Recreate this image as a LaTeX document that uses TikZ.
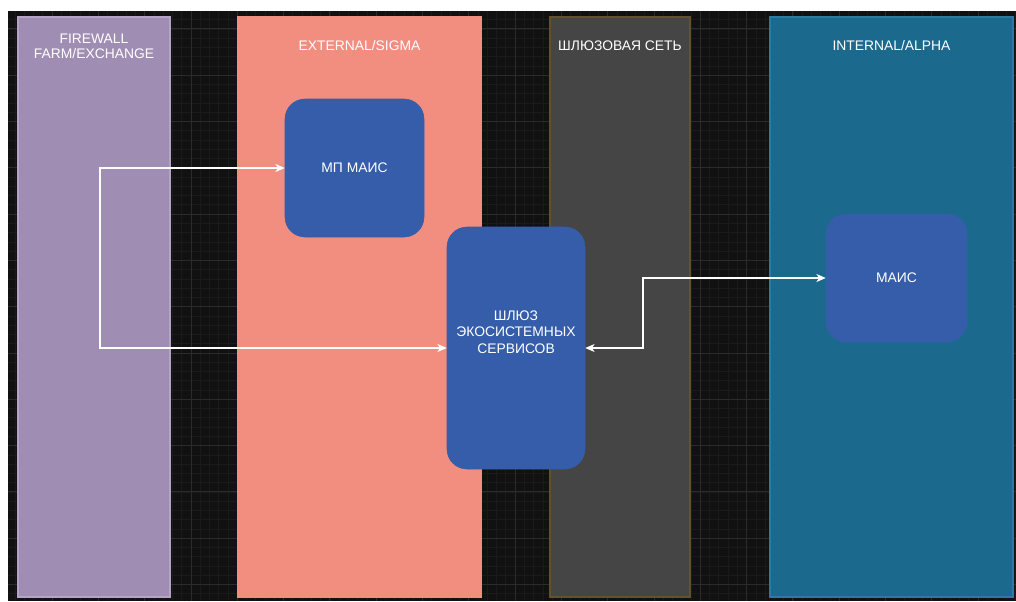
\documentclass[tikz,border=0pt]{standalone}
\usepackage{fontspec}
\setmainfont{Liberation Sans}
\usetikzlibrary{arrows.meta,positioning}
\definecolor{bgdark}{HTML}{111111}
\definecolor{gridmaj}{HTML}{2B2B2B}
\definecolor{gridmin}{HTML}{1A1A1A}
\definecolor{fwpurple}{HTML}{A08DB3}
\definecolor{fwedge}{HTML}{B3A4C6}
\definecolor{extsalmon}{HTML}{F28E7F}
\definecolor{gwgrey}{HTML}{454545}
\definecolor{gwedge}{HTML}{62522A}
\definecolor{intteal}{HTML}{1B6A8E}
\definecolor{intedge}{HTML}{2A7BA2}
\definecolor{boxblue}{HTML}{355DAA}
\tikzset{
  lane/.style={rectangle, draw, line width=0.8pt, inner sep=0pt, minimum height=435pt},
  lanetitle/.style={text=white, align=center, font=\fontsize{10.4}{11.5}\selectfont},
  svcbox/.style={rectangle, rounded corners=15pt, fill=boxblue, draw=boxblue, text=white, align=center, inner sep=0pt, font=\fontsize{10.4}{12.4}\selectfont},
  link/.style={draw=white, line width=0.8pt, {Stealth[length=7pt,width=6pt,inset=2pt]}-{Stealth[length=7pt,width=6pt,inset=2pt]}}
}

\begin{document}
\begin{tikzpicture}[x=0.75pt, y=-0.75pt]
    \useasboundingbox (0,0) rectangle (1016,601);
    % Canvas
    \fill[white] (0,0) rectangle (1016,601);
    \fill[bgdark] (8,11) rectangle (1016,601);
    \foreach \k in {1,...,109}
        \draw[gridmin, line width=0.4pt] ({5.7+9.26*\k},11) -- ({5.7+9.26*\k},601);
    \foreach \k in {-1,...,61}
        \draw[gridmin, line width=0.4pt] (8,{28.8+9.26*\k}) -- (1016,{28.8+9.26*\k});
    \foreach \i in {1,...,21}
        \draw[gridmaj, line width=0.5pt] ({5.7+46.3*\i},11) -- ({5.7+46.3*\i},601);
    \foreach \j in {0,...,12}
        \draw[gridmaj, line width=0.5pt] (8,{28.8+46.3*\j}) -- (1016,{28.8+46.3*\j});

    % Lanes
    \node[lane, fill=fwpurple, draw=fwedge, minimum width=114pt] (fw) at (94,307) {};
    \node[lane, fill=extsalmon, draw=extsalmon, minimum width=182.25pt] (ext) at (359.5,307) {};
    \node[lane, fill=gwgrey, draw=gwedge, minimum width=105pt] (gw) at (620,307) {};
    \node[lane, fill=intteal, draw=intedge, minimum width=182.25pt] (int) at (891.5,307) {};

    % Lane titles
    \node[lanetitle] (fwtitle) at ([yshift=-22.5pt]fw.north) {FIREWALL\\FARM/EXCHANGE};
    \node[lanetitle] (exttitle) at ([yshift=-22pt]ext.north) {EXTERNAL/SIGMA};
    \node[lanetitle] (gwtitle) at ([yshift=-22pt]gw.north) {ШЛЮЗОВАЯ СЕТЬ};
    \node[lanetitle] (inttitle) at ([yshift=-22pt]int.north) {INTERNAL/ALPHA};

    % Services
    \node[svcbox, minimum width=104.25pt, minimum height=103.5pt] (mp) at (354.5,168) {МП МАИС};
    \node[svcbox, minimum width=103.5pt, minimum height=181.5pt] (shl) at (516,348) {ШЛЮЗ\\ЭКОСИСТЕМНЫХ\\СЕРВИСОВ\\[12pt]};
    \node[svcbox, minimum width=105.75pt, minimum height=96pt] (mais) at (896.5,278) {МАИС};

    % Links
    \coordinate (fwbend) at (100,168);
    \coordinate (gwbend) at (643,348);
    \draw[link] (mp.west) -- (fwbend) |- (shl.west);
    \draw[link] (shl.east) -- (gwbend) |- (mais.west);
\end{tikzpicture}
\end{document}
